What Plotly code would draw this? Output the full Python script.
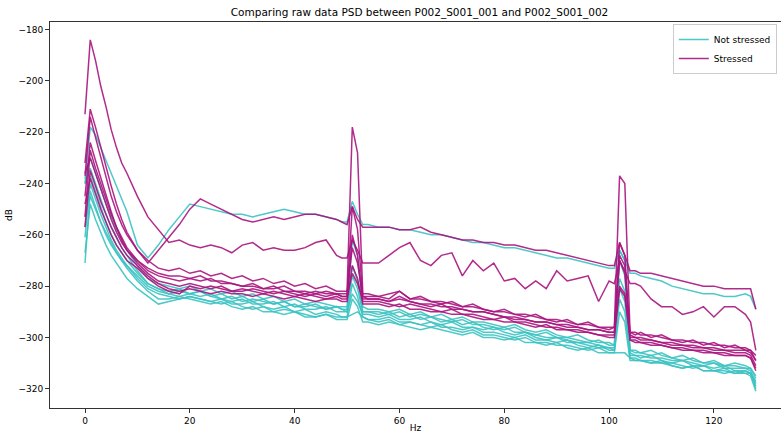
import plotly.graph_objects as go

# Frequency grid (Hz)
freqs = [0, 1, 2, 3, 4, 5, 6, 7, 8,
         10, 12, 14, 16, 18, 20, 22, 24, 26, 28, 30, 32, 34, 36, 38, 40, 42, 44, 46, 48,
         49, 50, 51, 52, 53, 54,
         56, 58, 60, 62, 64, 66, 68, 70, 72, 74, 76, 78, 80, 82, 84, 86, 88, 90, 92, 94, 96, 98, 100,
         101, 102, 103, 104, 105,
         106, 108, 110, 112, 114, 116, 118, 120, 122, 124, 126,
         127, 128]

# Not stressed (P002_S001_001), dB
ns_1 = [-240, -218, -221, -226, -231, -236, -241, -246, -251,
        -264, -269, -264, -258, -253, -248, -249, -250, -251, -252, -252, -253, -252, -251, -250, -251, -252, -252, -253, -254,
        -255, -255, -247, -252, -256, -256,
        -257, -257, -258, -258, -259, -260, -260, -261, -262, -263, -263, -264, -265, -265, -266, -267, -268, -269, -269, -270, -271, -272, -273,
        -273, -266, -270, -275, -275,
        -276, -277, -278, -280, -281, -282, -283, -283, -284, -284, -283,
        -284, -289]
ns_2 = [-238, -230, -236, -242, -248, -253, -258, -262, -266,
        -272, -277, -279, -280, -281, -280, -282, -281, -283, -282, -284, -283, -285, -284, -286, -285, -287, -286, -287, -288,
        -288, -288, -262, -268, -288, -289,
        -289, -290, -289, -291, -290, -292, -291, -293, -292, -294, -294, -295, -296, -295, -297, -298, -297, -299, -300, -299, -301, -302, -302,
        -303, -266, -270, -305, -306,
        -306, -307, -306, -308, -309, -308, -310, -310, -311, -310, -311,
        -312, -315]
ns_3 = [-240, -234, -240, -246, -252, -257, -261, -265, -268,
        -274, -279, -281, -283, -282, -283, -282, -284, -283, -285, -284, -286, -285, -287, -286, -288, -287, -288, -289, -288,
        -289, -290, -272, -278, -290, -290,
        -291, -290, -292, -291, -293, -292, -294, -293, -295, -294, -296, -297, -296, -298, -298, -299, -300, -300, -301, -302, -302, -303, -304,
        -304, -270, -276, -306, -307,
        -307, -308, -308, -309, -309, -310, -311, -310, -312, -312, -312,
        -313, -318]
ns_4 = [-257, -237, -243, -249, -255, -260, -264, -267, -270,
        -275, -279, -281, -282, -281, -283, -284, -283, -285, -286, -285, -287, -287, -286, -288, -287, -289, -289, -288, -290,
        -290, -290, -283, -286, -291, -291,
        -292, -291, -293, -293, -292, -294, -295, -294, -296, -296, -297, -296, -298, -299, -298, -300, -301, -300, -302, -302, -303, -304, -304,
        -305, -285, -290, -307, -307,
        -308, -307, -309, -310, -309, -311, -311, -312, -311, -313, -313,
        -314, -317]
ns_5 = [-261, -240, -246, -252, -257, -262, -266, -269, -272,
        -277, -281, -283, -284, -285, -284, -285, -286, -285, -287, -287, -286, -288, -289, -288, -290, -289, -291, -290, -291,
        -292, -292, -279, -284, -292, -293,
        -293, -292, -294, -294, -295, -294, -296, -296, -297, -296, -298, -298, -299, -300, -299, -301, -301, -302, -301, -303, -304, -303, -305,
        -305, -281, -286, -308, -308,
        -309, -309, -310, -310, -311, -312, -311, -313, -313, -314, -313,
        -314, -320]
ns_6 = [-267, -248, -254, -259, -264, -268, -271, -274, -277,
        -281, -284, -287, -286, -285, -284, -285, -286, -287, -286, -288, -289, -288, -290, -289, -290, -291, -292, -291, -292,
        -292, -292, -291, -290, -292, -293,
        -294, -293, -295, -294, -295, -296, -295, -297, -298, -297, -299, -299, -300, -301, -300, -302, -302, -303, -303, -304, -305, -304, -306,
        -306, -306, -306, -308, -309,
        -309, -310, -309, -311, -312, -311, -313, -313, -314, -313, -314,
        -315, -321]
ns_7 = [-271, -243, -249, -255, -260, -264, -267, -270, -272,
        -276, -280, -282, -283, -284, -283, -282, -284, -285, -284, -286, -285, -286, -287, -286, -288, -288, -287, -289, -288,
        -289, -289, -276, -281, -290, -290,
        -290, -291, -290, -292, -291, -292, -293, -294, -293, -295, -295, -296, -297, -296, -298, -299, -298, -300, -300, -301, -302, -301, -303,
        -303, -277, -282, -305, -305,
        -306, -305, -307, -308, -307, -309, -310, -309, -311, -311, -312,
        -312, -316]
ns_8 = [-253, -245, -250, -255, -259, -263, -267, -270, -273,
        -278, -282, -285, -285, -284, -285, -286, -287, -286, -288, -289, -288, -290, -290, -291, -290, -292, -292, -291, -293,
        -293, -293, -285, -288, -294, -294,
        -295, -294, -295, -296, -297, -296, -297, -298, -299, -298, -300, -300, -301, -300, -302, -302, -303, -302, -304, -305, -304, -306, -306,
        -306, -290, -294, -309, -309,
        -309, -310, -310, -311, -312, -311, -313, -313, -312, -314, -314,
        -314, -319]

# Stressed (P002_S001_002), dB
st_1 = [-232, -211, -218, -226, -234, -241, -248, -254, -259,
        -266, -271, -266, -261, -256, -250, -246, -248, -250, -252, -254, -255, -254, -253, -254, -253, -252, -252, -253, -254,
        -255, -256, -249, -254, -257, -257,
        -257, -257, -258, -258, -257, -259, -260, -261, -262, -262, -263, -263, -264, -264, -265, -266, -266, -267, -268, -269, -270, -271, -272,
        -272, -263, -268, -274, -274,
        -275, -275, -276, -277, -278, -279, -280, -280, -281, -281, -281,
        -281, -289]
st_2 = [-213, -184, -192, -202, -210, -219, -226, -232, -236,
        -245, -253, -258, -263, -262, -264, -265, -264, -265, -267, -264, -263, -266, -265, -266, -266, -265, -263, -262, -268,
        -269, -269, -262, -266, -271, -271,
        -271, -268, -265, -263, -270, -272, -268, -267, -276, -270, -274, -271, -278, -277, -281, -278, -281, -274, -278, -277, -276, -286, -278,
        -279, -270, -274, -279, -279,
        -280, -285, -288, -288, -291, -290, -288, -292, -288, -288, -291,
        -294, -305]
st_3 = [-237, -214, -222, -230, -238, -245, -251, -256, -260,
        -266, -270, -273, -274, -273, -275, -274, -276, -275, -277, -276, -278, -277, -279, -278, -280, -279, -281, -280, -282,
        -282, -282, -218, -228, -283, -283,
        -284, -283, -282, -285, -284, -286, -287, -286, -288, -287, -289, -290, -289, -291, -292, -291, -293, -294, -293, -295, -294, -296, -297,
        -296, -237, -240, -298, -299,
        -298, -300, -299, -301, -302, -301, -303, -302, -304, -303, -305,
        -305, -309]
st_4 = [-245, -224, -231, -238, -245, -251, -257, -261, -265,
        -270, -274, -276, -277, -278, -277, -278, -277, -279, -279, -280, -280, -281, -280, -282, -282, -283, -282, -283, -283,
        -284, -284, -249, -258, -284, -285,
        -285, -286, -284, -286, -287, -288, -287, -289, -289, -290, -290, -291, -292, -292, -293, -294, -294, -295, -295, -296, -297, -297, -298,
        -298, -263, -268, -300, -300,
        -301, -301, -302, -303, -303, -304, -304, -305, -305, -306, -306,
        -307, -311]
st_5 = [-253, -227, -234, -240, -246, -252, -257, -262, -266,
        -271, -275, -278, -279, -280, -279, -280, -281, -280, -282, -281, -282, -283, -282, -283, -284, -283, -284, -285, -284,
        -285, -285, -260, -268, -286, -286,
        -286, -287, -288, -287, -288, -289, -290, -289, -291, -291, -292, -293, -292, -294, -294, -295, -296, -296, -297, -297, -298, -299, -299,
        -299, -268, -272, -301, -301,
        -302, -302, -303, -304, -304, -305, -305, -306, -306, -307, -307,
        -308, -313]
st_6 = [-257, -235, -241, -247, -252, -257, -261, -265, -268,
        -272, -276, -279, -281, -282, -281, -282, -283, -282, -283, -283, -284, -283, -284, -285, -284, -285, -286, -285, -285,
        -286, -286, -272, -277, -287, -287,
        -287, -288, -287, -289, -289, -290, -290, -291, -291, -292, -293, -293, -294, -294, -295, -296, -295, -297, -297, -298, -298, -299, -300,
        -300, -280, -283, -301, -302,
        -302, -303, -303, -304, -305, -305, -306, -306, -307, -307, -307,
        -308, -312]
st_7 = [-248, -238, -244, -250, -255, -260, -264, -267, -270,
        -273, -277, -280, -282, -283, -280, -281, -280, -281, -282, -282, -281, -282, -283, -282, -283, -284, -283, -284, -283,
        -284, -284, -275, -279, -285, -285,
        -285, -286, -285, -286, -287, -287, -288, -288, -289, -290, -290, -291, -292, -293, -293, -294, -294, -295, -296, -296, -297, -297, -298,
        -298, -281, -284, -299, -300,
        -300, -301, -302, -302, -303, -303, -304, -304, -305, -305, -305,
        -306, -309]
st_8 = [-236, -230, -236, -242, -248, -254, -259, -263, -266,
        -270, -273, -275, -276, -276, -277, -276, -278, -278, -279, -280, -279, -281, -281, -280, -282, -282, -283, -282, -283,
        -283, -283, -265, -271, -284, -284,
        -284, -285, -282, -285, -285, -286, -286, -287, -288, -288, -289, -290, -290, -291, -291, -292, -293, -293, -294, -295, -295, -296, -296,
        -296, -270, -275, -298, -298,
        -299, -299, -300, -301, -301, -302, -302, -303, -303, -304, -304,
        -305, -307]

not_stressed = [ns_1, ns_2, ns_3, ns_4, ns_5, ns_6, ns_7, ns_8]
stressed = [st_1, st_2, st_3, st_4, st_5, st_6, st_7, st_8]

x_ticks = [0, 20, 40, 60, 80, 100, 120]
y_ticks = [-320, -300, -280, -260, -240, -220, -200, -180]

CYAN = "rgba(60,194,194,0.9)"
MAGENTA = "rgba(168,20,126,0.9)"

fig = go.Figure()
for i, ys in enumerate(not_stressed):
    assert len(ys) == len(freqs), ("ns", i, len(ys))
    fig.add_trace(go.Scatter(x=freqs, y=ys, mode="lines", name="Not stressed",
                             legendgroup="ns", showlegend=(i == 0),
                             line=dict(color=CYAN, width=1.5)))
for i, ys in enumerate(stressed):
    assert len(ys) == len(freqs), ("st", i, len(ys))
    fig.add_trace(go.Scatter(x=freqs, y=ys, mode="lines", name="Stressed",
                             legendgroup="st", showlegend=(i == 0),
                             line=dict(color=MAGENTA, width=1.5)))

axis_font = dict(family="DejaVu Sans", size=9, color="#000000")
fig.update_layout(
    width=781, height=433,
    margin=dict(l=50, r=0, t=22, b=25, autoexpand=False),
    paper_bgcolor="white", plot_bgcolor="white",
    font=dict(family="DejaVu Sans", size=9, color="#000000"),
    title=dict(text="Comparing raw data PSD between P002_S001_001 and P002_S001_002",
               x=0.5055, xref="paper", xanchor="center", y=0.972, yref="container",
               yanchor="middle", font=dict(family="DejaVu Sans", size=10.5, color="#000000")),
    showlegend=True,
    legend=dict(x=0.852, y=0.995, xanchor="left", yanchor="top",
                bgcolor="white", bordercolor="#cccccc", borderwidth=1,
                font=dict(family="DejaVu Sans", size=9, color="#000000"),
                tracegroupgap=0, itemwidth=30),
    xaxis=dict(range=[-6.68, 132.8], tickmode="array", tickvals=x_ticks,
               showgrid=False, zeroline=False, showline=True, linecolor="#333333",
               linewidth=1, mirror=True, ticks="outside", ticklen=4, tickcolor="#333333",
               tickfont=axis_font,
               title=dict(text="Hz", font=axis_font, standoff=3)),
    yaxis=dict(range=[-327.5, -177.04], tickmode="array", tickvals=y_ticks,
               showgrid=False, zeroline=False, showline=True, linecolor="#333333",
               linewidth=1, mirror=False, ticks="outside", ticklen=4, tickcolor="#333333",
               tickfont=axis_font,
               title=dict(text="dB", font=axis_font, standoff=4)),
)

fig.write_html("out.html")
